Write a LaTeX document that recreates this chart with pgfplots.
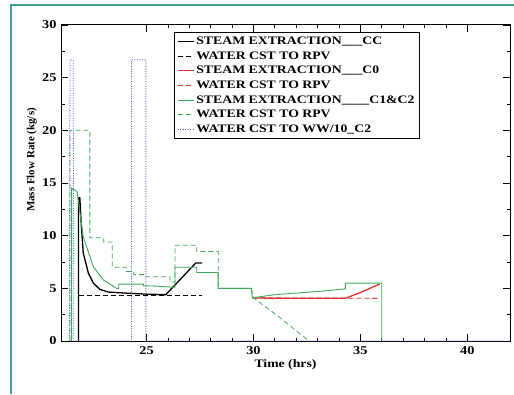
\documentclass[border=0pt]{standalone}
\usepackage{fontspec}
\setmainfont{Liberation Serif}[FakeStretch=1.2]
\newfontfamily\ylabfont{Liberation Serif}
\usepackage{pgfplots}
\pgfplotsset{compat=1.18}
\definecolor{frameteal}{HTML}{3CA08C}
\definecolor{cgreen}{HTML}{3DAA55}
\definecolor{cred}{HTML}{E03030}
\definecolor{cblue}{HTML}{5A5AD0}
\begin{document}
\begin{tikzpicture}[x=1bp,y=1bp]
\useasboundingbox (0,0) rectangle (514,394);
\draw[frameteal, line width=1.6bp] (11,0) -- (11,389) -- (514,389);
\begin{axis}[
  at={(61bp,53bp)}, anchor=south west,
  scale only axis, width=449bp, height=316bp,
  xmin=21, xmax=42, ymin=0, ymax=30,
  xtick={25,30,35,40}, minor x tick num=4,
  ytick={0,5,10,15,20,25,30}, minor y tick num=1,
  tick align=inside, major tick length=7bp, minor tick length=3.5bp,
  tick style={black, line width=0.7bp},
  axis line style={line width=1bp},
  /pgf/number format/assume math mode=true,
  tick label style={font=\fontsize{12}{13}\selectfont\bfseries},
  xticklabel style={yshift=-2bp},
  yticklabel style={xshift=-1bp},
  xlabel={\bfseries Time (hrs)},
  xlabel style={font=\fontsize{11.5}{12}\selectfont, yshift=2bp},
  ylabel={\ylabfont\bfseries Mass Flow Rate (kg/s)},
  ylabel style={font=\fontsize{11}{12}\selectfont, at={(axis description cs:-0.065,0.573)}, anchor=center, rotate=0},
  legend style={at={(0.252,0.978)}, anchor=north west, draw=black, line width=0.8bp,
    font=\fontsize{11.5}{12}\selectfont\bfseries, row sep=1.6bp, inner sep=2.5bp},
  legend cell align=left,
  legend image code/.code={\draw[#1] (0,0) -- (16bp,0);},
  clip=true,
]
% STEAM EXTRACTION CC
\addplot[black, line width=1.3bp] coordinates {
(21.82,0) (21.82,13.6) (21.88,13.6) (21.95,11.0) (22.04,8.35) (22.28,6.45) (22.51,5.5) (22.82,4.9) (23.2,4.65) (24,4.55) (25,4.45) (25.9,4.4) (27.3,7.4) (27.6,7.4)};
\addlegendentry{STEAM EXTRACTION\_\_\_CC}
\addplot[black, line width=1.1bp, dash pattern=on 5bp off 3bp] coordinates {
(21.82,4.33) (27.6,4.33)};
\addlegendentry{WATER CST TO RPV}
% C0
\addplot[cred, line width=1.3bp] coordinates {
(29.95,4.1) (31,4.05) (34.3,4.05) (35,4.6) (35.9,5.4)};
\addlegendentry{STEAM EXTRACTION\_\_\_C0}
\addplot[cred, line width=0.9bp, dash pattern=on 5bp off 3bp] coordinates {
(29.95,4.1) (35.9,4.05)};
\addlegendentry{WATER CST TO RPV}
% C1&C2
\addplot[cgreen, line width=0.9bp] coordinates {
(21.5,0) (21.5,14.5) (21.75,14.2) (21.9,12) (22.04,9.9) (22.51,7.06) (22.98,5.8) (23.6,5.0) (23.7,5.0) (23.7,5.4) (24.85,5.4) (24.85,5.25) (25.5,5.2) (26.33,5.1) (26.33,7.0) (27.35,7.0) (27.35,6.5) (28.35,6.5) (28.35,5.0) (29.9,5.0) (29.95,4.1) (31,4.4) (32,4.55) (33,4.7) (34.3,4.95) (34.3,5.5) (36,5.5) (36,0)};
\addlegendentry{STEAM EXTRACTION\_\_\_\_C1\&C2}
\addplot[cgreen, line width=0.8bp, dash pattern=on 5bp off 3bp] coordinates {
(21.42,0) (21.42,20) (22.35,20) (22.35,9.8) (23.0,9.8) (23.0,9.4) (23.4,9.4) (23.4,7.0) (24.05,7.0) (24.05,6.6) (24.4,6.6) (24.4,6.3) (24.9,6.3) (24.9,6.1) (26.1,6.1) (26.1,5.6) (26.33,5.6) (26.33,9.1) (27.35,9.1) (27.35,8.5) (28.35,8.5) (28.35,5.0) (29.9,5.0) (30,4.1) (31,2.6) (32.6,0)};
\addlegendentry{WATER CST TO RPV}
\addplot[cblue, line width=0.8bp, dash pattern=on 1bp off 1.5bp] coordinates {
(21.39,0) (21.42,26.7) (21.57,26.7) (21.6,0) (24.3,0) (24.3,26.7) (24.97,26.7) (24.97,0) (42,0)};
\addlegendentry{WATER CST TO WW/10\_C2}
\end{axis}
\end{tikzpicture}
\end{document}
